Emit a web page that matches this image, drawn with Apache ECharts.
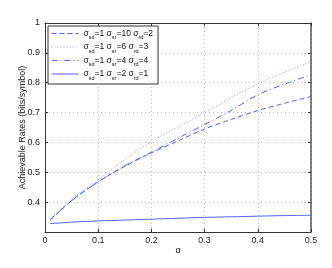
<!DOCTYPE html>
<html><head><meta charset="utf-8">
<script src="https://cdn.jsdelivr.net/npm/echarts@6/dist/echarts.min.js"></script>
<style>html,body{margin:0;padding:0;background:#fff}#c{width:332px;height:268px}</style>
</head><body><div id="c"></div>
<script>
var alpha = [0.01, 0.05, 0.1, 0.15, 0.2, 0.25, 0.3, 0.35, 0.4, 0.45, 0.5];
var rateSr10 = [0.340, 0.405, 0.468, 0.520, 0.565, 0.605, 0.645, 0.677, 0.707, 0.731, 0.754];
var rateSr6  = [0.345, 0.410, 0.475, 0.543, 0.603, 0.652, 0.700, 0.750, 0.796, 0.835, 0.870];
var rateSr4  = [0.342, 0.405, 0.468, 0.522, 0.567, 0.614, 0.660, 0.707, 0.760, 0.795, 0.827];
var rateSr2  = [0.328, 0.333, 0.337, 0.340, 0.343, 0.346, 0.349, 0.351, 0.353, 0.355, 0.356];
var yTicks = ['0.4','0.5','0.6','0.7','0.8','0.9','1'];
var xTicks = ['0','0.1','0.2','0.3','0.4','0.5'];
var legendLabels = {
  A: '{n|σ}{s|sd}{n|=1 σ}{s|sr}{n|=10 σ}{s|rd}{n|=2}',
  B: '{n|σ}{s|sd}{n|=1 σ}{s|sr}{n|=6 σ}{s|rd}{n|=3}',
  C: '{n|σ}{s|sd}{n|=1 σ}{s|sr}{n|=4 σ}{s|rd}{n|=4}',
  D: '{n|σ}{s|sd}{n|=1 σ}{s|sr}{n|=2 σ}{s|rd}{n|=1}'
};
function pairs(ys){ return alpha.map(function(a,i){return [a, ys[i]];}); }
var ff = 'Liberation Sans, Arial, sans-serif';
var blue = '#5063ff';
var chart = echarts.init(document.getElementById('c'), null, {renderer:'canvas'});
var gridLine = {show:true, lineStyle:{color:'#bbb', type:[1,3], width:1}};
chart.setOption({
  animation:false,
  backgroundColor:'#fff',
  grid:{left:45, right:21, top:23, bottom:36},
  legend:{
    orient:'vertical', left:48, top:26,
    backgroundColor:'#fff', borderColor:'#333', borderWidth:1,
    padding:[3,5,3,3], itemWidth:27, itemHeight:8, itemGap:2,
    data:['A','B','C','D'],
    itemStyle:{opacity:0},
    lineStyle:{width:1},
    formatter:function(n){return legendLabels[n];},
    textStyle:{
      rich:{
        n:{fontSize:8.5, fontFamily:ff, color:'#111', lineHeight:14, verticalAlign:'middle'},
        s:{fontSize:5.5, fontFamily:ff, color:'#111', lineHeight:10, verticalAlign:'bottom', padding:[3,0,0,0]}
      }
    }
  },
  xAxis:[{
    type:'value', min:0, max:0.5, interval:0.1,
    name:'α', nameLocation:'middle', nameGap:14, nameMoveOverlap:false,
    nameTextStyle:{fontSize:9, fontFamily:ff, color:'#222'},
    axisLine:{show:true, lineStyle:{color:'#333', width:1}},
    axisTick:{show:true, inside:true, length:3, lineStyle:{color:'#333'}},
    axisLabel:{fontSize:9, fontFamily:ff, color:'#222', margin:4,
      formatter:function(v){var i=Math.round(v*10);return xTicks[i]!==undefined?xTicks[i]:'';}},
    splitLine:gridLine
  },{
    type:'value', min:0, max:0.5, interval:0.1, position:'top',
    axisLine:{show:true, onZero:false, lineStyle:{color:'#333'}},
    axisTick:{show:true, inside:true, length:3, lineStyle:{color:'#333'}},
    axisLabel:{show:false}, splitLine:{show:false}
  }],
  yAxis:[{
    type:'value', min:0.3, max:1, interval:0.1,
    name:'Achievable Rates (bits/symbol)', nameLocation:'middle', nameGap:18, nameMoveOverlap:false,
    nameTextStyle:{fontSize:9, fontFamily:ff, color:'#222'},
    axisLine:{show:true, lineStyle:{color:'#333', width:1}},
    axisTick:{show:true, inside:true, length:3, lineStyle:{color:'#333'}},
    axisLabel:{fontSize:9, fontFamily:ff, color:'#222', margin:5,
      formatter:function(v){var i=Math.round(v*10)-4;return i>=0&&yTicks[i]!==undefined?yTicks[i]:'';}},
    splitLine:gridLine
  },{
    type:'value', min:0.3, max:1, interval:0.1, position:'right',
    axisLine:{show:true, onZero:false, lineStyle:{color:'#555', width:1.5}},
    axisTick:{show:true, inside:true, length:3, lineStyle:{color:'#333'}},
    axisLabel:{show:false}, splitLine:{show:false}
  }],
  series:[
    {name:'A', type:'line', data:pairs(rateSr10), symbol:'none', smooth:0.3,
     lineStyle:{color:blue, width:1, type:[5,3]}, itemStyle:{color:blue}},
    {name:'B', type:'line', data:pairs(rateSr6), symbol:'none', smooth:0.3,
     lineStyle:{color:'#8a97ff', width:1, type:[1,2]}, itemStyle:{color:'#8a97ff'}},
    {name:'C', type:'line', data:pairs(rateSr4), symbol:'none', smooth:0.3,
     lineStyle:{color:blue, width:1, type:[6,3,1,3]}, itemStyle:{color:blue}},
    {name:'D', type:'line', data:pairs(rateSr2), symbol:'none', smooth:0.3,
     lineStyle:{color:blue, width:1}, itemStyle:{color:blue}}
  ]
});
</script></body></html>
